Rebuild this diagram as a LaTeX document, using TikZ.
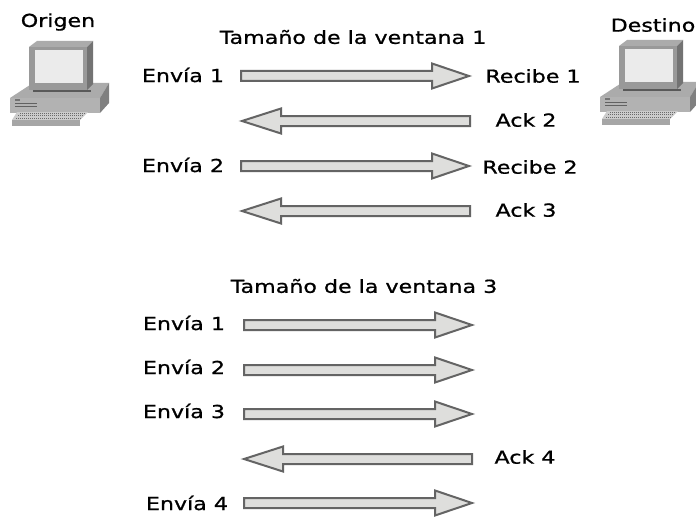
\documentclass[tikz,border=0pt]{standalone}
\usepackage{fontspec}
\setmainfont[FakeStretch=1.24,FakeBold=0.9]{DejaVu Sans}
\definecolor{arrowfill}{RGB}{222,222,220}
\definecolor{arrowline}{RGB}{100,100,100}
\tikzset{
  lbl/.style={inner sep=0pt,font=\fontsize{13.4pt}{15pt}\selectfont,text=black},
  blockr/.style={draw=arrowline,fill=arrowfill,line width=1.5pt,line join=miter,miter limit=4}
}
\newcommand{\compu}[2]{%
\begin{scope}[shift={(#1,#2)}]
  % base
  \fill[black!33] (10,98) -- (33,83) -- (109,83) -- (100,98) -- cycle;
  \fill[black!50] (100,98) -- (109,83) -- (109,103) -- (100,113) -- cycle;
  \fill[black!30] (10,98) rectangle (100,113);
  \fill[black!62] (15,103) rectangle (37,104.2);
  \fill[black!62] (15,106) rectangle (37,107.2);
  \fill[black!55] (15,99.5) rectangle (20,100.7);
  % monitor
  \fill[black!33] (29,47) -- (37,41) -- (93,41) -- (87,47) -- cycle;
  \fill[black!55] (87,47) -- (93,41) -- (93,84) -- (87,90) -- cycle;
  \fill[black!40] (29,47) rectangle (87,90);
  \fill[black!8] (35,50) rectangle (83,83);
  \fill[black!65] (33,90) rectangle (91,92);
  % keyboard
  \fill[black!20] (17,112) -- (88,112) -- (80,120) -- (12,120) -- cycle;
  \fill[black!35] (12,120) rectangle (80,126);
  \foreach \yy/\xa/\xb in {113.5/20/85,115.8/18/83,118/16/81}{\draw[black!58,line width=0.7pt,dash pattern=on 1pt off 0.5pt] (\xa,\yy) -- (\xb,\yy);}
\end{scope}}
\newcommand{\arrR}[2]{% x of the tail, y of the centre
  \draw[blockr] (#1,#2-5) -- (#1+191,#2-5) -- (#1+191,#2-12.5) -- (#1+228,#2) -- (#1+191,#2+12.5) -- (#1+191,#2+5) -- (#1,#2+5) -- cycle;}
\newcommand{\arrL}[2]{% x of the tail, y of the centre
  \draw[blockr] (#1,#2-5) -- (#1-189,#2-5) -- (#1-189,#2-12.5) -- (#1-228,#2) -- (#1-189,#2+12.5) -- (#1-189,#2+5) -- (#1,#2+5) -- cycle;}
\begin{document}
\begin{tikzpicture}[x=0.75pt,y=-0.75pt]
\useasboundingbox (0,0) rectangle (696,517);
\fill[white] (0,0) rectangle (696,517);
\compu{0}{0}
\compu{590}{-1}
\node[lbl] (origen) at (58,22) {Origen};
\node[lbl] (destino) at (653,25) {Destino};
\node[lbl] (t1) at (353,37) {Tamaño de la ventana 1};
\node[lbl] (t3) at (364,286) {Tamaño de la ventana 3};
\node[lbl] (e1) at (183,75) {Envía 1};
\node[lbl] (r1) at (533,76) {Recibe 1};
\node[lbl] (a2) at (526,120) {Ack 2};
\node[lbl] (e2) at (183,165) {Envía 2};
\node[lbl] (r2) at (530,167) {Recibe 2};
\node[lbl] (a3) at (526,210) {Ack 3};
\node[lbl] (e31) at (184,323) {Envía 1};
\node[lbl] (e32) at (184,367) {Envía 2};
\node[lbl] (e33) at (184,411) {Envía 3};
\node[lbl] (a4) at (525,457) {Ack 4};
\node[lbl] (e34) at (187,503) {Envía 4};
\arrR{241}{76}
\arrL{470}{121}
\arrR{241}{166}
\arrL{470}{211}
\arrR{244}{325}
\arrR{244}{370}
\arrR{244}{414}
\arrL{472}{459}
\arrR{244}{503}
\end{tikzpicture}
\end{document}
